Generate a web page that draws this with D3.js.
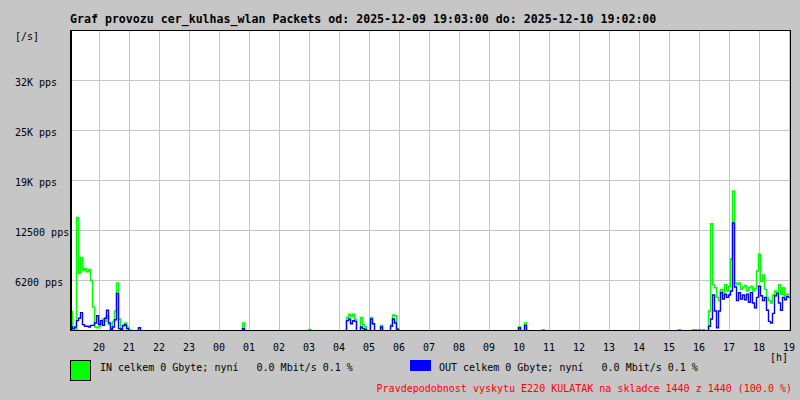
<!DOCTYPE html>
<html>
<head>
<meta charset="utf-8">
<script src="https://cdn.jsdelivr.net/npm/d3@7"></script>
<style>
  body { margin: 0; background: #c6c6c6; }
  text { font-family: "DejaVu Sans Mono", monospace; font-size: 10px; white-space: pre; }
</style>
</head>
<body>
<svg id="chart" width="800" height="400"></svg>
<script>
// 4 minute samples, 19:03 -> 19:03 next day (360 samples)
const startTime = new Date(2025, 11, 9, 19, 3);
const endTime = new Date(2025, 11, 10, 19, 3);
const sampleMinutes = 4;

const inPackets = [
  2400, 0, 200, 14200, 7200, 9200, 7600, 7800, 7400, 7700, 6300, 3000, 500, 400, 600, 900, 1500, 1200, 1900, 800,
  300, 1200, 2500, 6000, 1500, 300, 600, 1000, 500, 200, 0, 0, 0, 0, 0, 0, 0, 0, 0, 0,
  0, 0, 0, 0, 0, 0, 0, 0, 0, 0, 0, 0, 0, 0, 0, 0, 0, 0, 0, 0,
  0, 0, 0, 0, 0, 0, 0, 0, 0, 0, 0, 0, 0, 0, 0, 0, 0, 0, 0, 0,
  0, 0, 0, 0, 0, 0, 1000, 0, 0, 0, 0, 0, 0, 0, 0, 0, 0, 0, 0, 0,
  0, 0, 0, 0, 0, 0, 0, 0, 0, 0, 0, 0, 0, 0, 0, 0, 0, 0, 0, 200,
  0, 0, 0, 0, 0, 0, 0, 0, 0, 0, 0, 0, 0, 0, 0, 0, 0, 0, 1700, 2100,
  1800, 2100, 1400, 0, 0, 1700, 800, 500, 0, 0, 1700, 900, 0, 0, 0, 700, 0, 0, 0, 0,
  800, 2000, 1900, 300, 0, 0, 0, 0, 0, 0, 0, 0, 0, 0, 0, 0, 0, 0, 0, 0,
  0, 0, 0, 0, 0, 0, 0, 0, 0, 0, 0, 0, 0, 0, 0, 0, 0, 0, 0, 0,
  0, 0, 0, 0, 0, 0, 0, 0, 0, 0, 0, 0, 0, 0, 0, 0, 0, 0, 0, 0,
  0, 0, 0, 0, 500, 0, 0, 1000, 0, 0, 0, 0, 0, 0, 0, 0, 0, 0, 0, 0,
  0, 0, 0, 0, 0, 0, 0, 0, 0, 0, 0, 0, 0, 0, 0, 0, 0, 0, 0, 0,
  0, 0, 0, 0, 0, 0, 0, 0, 0, 0, 0, 0, 0, 0, 0, 0, 0, 0, 0, 0,
  0, 0, 0, 0, 0, 0, 0, 0, 0, 0, 0, 0, 0, 0, 0, 0, 0, 0, 0, 0,
  0, 0, 0, 0, 0, 0, 0, 0, 0, 0, 0, 0, 0, 0, 0, 0, 0, 0, 0, 2500,
  13400, 5800, 5400, 4200, 3800, 5200, 4500, 5800, 5000, 5600, 9000, 17500, 6000, 5800, 6000, 5200, 5500, 5700, 5000, 5400,
  5600, 5000, 5300, 7500, 9600, 6200, 7000, 5200, 4200, 3800, 3500, 4500, 5000, 4800, 5800, 4600, 5400, 4400, 4600, 4500
];

const outPackets = [
  500, 300, 500, 1300, 1600, 2300, 800, 600, 600, 500, 700, 700, 1000, 1900, 800, 1300, 700, 1600, 2600, 1000,
  200, 500, 1400, 4700, 300, 200, 700, 800, 300, 0, 0, 0, 0, 0, 400, 0, 0, 0, 0, 0,
  0, 0, 0, 0, 0, 0, 0, 0, 0, 0, 0, 0, 0, 0, 0, 0, 0, 0, 0, 0,
  0, 0, 0, 0, 0, 0, 0, 0, 0, 0, 0, 0, 0, 0, 0, 0, 0, 0, 0, 0,
  0, 0, 0, 0, 0, 0, 300, 0, 0, 0, 0, 0, 0, 0, 0, 0, 0, 0, 0, 0,
  0, 0, 0, 0, 0, 0, 0, 0, 0, 0, 0, 0, 0, 0, 0, 0, 0, 0, 0, 0,
  0, 0, 0, 0, 0, 0, 0, 0, 0, 0, 0, 0, 0, 0, 0, 0, 0, 0, 1300, 1500,
  900, 1300, 1200, 0, 0, 500, 300, 200, 0, 0, 1500, 900, 0, 0, 0, 500, 0, 0, 0, 0,
  600, 1500, 1000, 200, 0, 0, 0, 0, 0, 0, 0, 0, 0, 0, 0, 0, 0, 0, 0, 0,
  0, 0, 0, 0, 0, 0, 0, 0, 0, 0, 0, 0, 0, 0, 0, 0, 0, 0, 0, 0,
  0, 0, 0, 0, 0, 0, 0, 0, 0, 0, 0, 0, 0, 0, 0, 0, 0, 0, 0, 0,
  0, 0, 0, 0, 400, 0, 0, 700, 0, 0, 0, 0, 0, 0, 0, 0, 100, 0, 0, 0,
  0, 0, 0, 0, 0, 0, 0, 0, 0, 0, 0, 0, 0, 0, 0, 0, 0, 0, 0, 0,
  0, 0, 0, 0, 0, 0, 0, 0, 0, 0, 0, 0, 0, 0, 0, 0, 0, 0, 0, 0,
  0, 0, 0, 0, 0, 0, 0, 0, 0, 0, 0, 0, 0, 0, 0, 0, 0, 0, 0, 0,
  0, 0, 0, 0, 100, 0, 0, 0, 0, 0, 0, 100, 100, 0, 100, 0, 100, 0, 0, 600,
  1500, 4500, 2500, 400, 2500, 4800, 4000, 4600, 4200, 4500, 5000, 13500, 5500, 3800, 4800, 4000, 4500, 3900, 4600, 3600,
  4800, 3500, 2900, 4200, 5600, 4400, 3800, 4200, 2600, 1200, 1000, 2200, 4400, 4700, 3500, 2600, 4200, 3900, 4300, 4200
];

const yTicks = [6250, 12500, 18750, 25000, 31250];
const yLabels = ["6200 pps", "12500 pps", "19K pps", "25K pps", "32K pps"];
const yMax = 37500;

const titleText = "Graf provozu cer_kulhas_wlan Packets od: 2025-12-09 19:03:00 do: 2025-12-10 19:02:00";
const inLegend = "IN celkem 0 Gbyte; nyní   0.0 Mbit/s 0.1 %";
const outLegend = "OUT celkem 0 Gbyte; nyní   0.0 Mbit/s 0.1 %";
const noteText = "Pravdepodobnost vyskytu E220 KULATAK na skladce 1440 z 1440 (100.0 %)";

const svg = d3.select("#chart");
const margin = { top: 30, right: 10, bottom: 70, left: 70 };
const width = +svg.attr("width");
const height = +svg.attr("height");

const xScale = d3.scaleTime()
  .domain([startTime, endTime])
  .range([margin.left, width - margin.right]);
const yScale = d3.scaleLinear()
  .domain([0, yMax])
  .range([height - margin.bottom + 1, margin.top + 1]);

svg.append("rect")
  .attr("width", width).attr("height", height)
  .attr("fill", "#c6c6c6");

svg.append("rect")
  .attr("x", margin.left).attr("y", margin.top)
  .attr("width", width - margin.left - margin.right)
  .attr("height", height - margin.top - margin.bottom)
  .attr("fill", "#fff");

svg.append("text")
  .attr("x", 70).attr("y", 23)
  .style("font-size", "11.6px").style("font-weight", "bold")
  .text(titleText);

// grid
const hours = xScale.ticks(d3.timeHour.every(1));
svg.append("g").selectAll("line")
  .data(hours)
  .join("line")
  .attr("x1", (d) => Math.floor(xScale(d)) + 1.5)
  .attr("x2", (d) => Math.floor(xScale(d)) + 1.5)
  .attr("y1", margin.top)
  .attr("y2", height - margin.bottom)
  .attr("stroke", "#c6c6c6");

svg.append("g").selectAll("line")
  .data(yTicks)
  .join("line")
  .attr("x1", margin.left)
  .attr("x2", width - margin.right)
  .attr("y1", (d) => Math.round(yScale(d)) - 0.5)
  .attr("y2", (d) => Math.round(yScale(d)) - 0.5)
  .attr("stroke", "#c6c6c6");

// data lines
svg.append("clipPath").attr("id", "plotClip")
  .append("rect")
  .attr("x", margin.left + 1).attr("y", margin.top)
  .attr("width", width - margin.left - margin.right)
  .attr("height", height - margin.top - margin.bottom + 1);

const sampleTime = (i) => d3.timeMinute.offset(startTime, i * sampleMinutes);
const line = d3.line()
  .x((d, i) => xScale(sampleTime(i)) + 1.5)
  .y((d) => yScale(d))
  .curve(d3.curveStep);

const plot = svg.append("g").attr("clip-path", "url(#plotClip)");
plot.append("path")
  .attr("d", line(inPackets))
  .attr("fill", "none").attr("stroke", "#00ff00").attr("stroke-width", 1.4);
plot.append("path")
  .attr("d", line(outPackets))
  .attr("fill", "none").attr("stroke", "#0000ff").attr("stroke-width", 1.4);

// frame
svg.append("rect")
  .attr("x", margin.left + 0.5).attr("y", margin.top + 0.5)
  .attr("width", width - margin.left - margin.right)
  .attr("height", height - margin.top - margin.bottom)
  .attr("fill", "none").attr("stroke", "#000");
svg.append("line")
  .attr("x1", margin.left + 1.5).attr("x2", margin.left + 1.5)
  .attr("y1", margin.top).attr("y2", height - margin.bottom + 1)
  .attr("stroke", "#000");

// y labels
svg.append("text").attr("x", 15).attr("y", 40).text("[/s]");
svg.append("g").selectAll("text")
  .data(yTicks)
  .join("text")
  .attr("x", 15)
  .attr("y", (d) => Math.round(yScale(d)) + 5)
  .text((d, i) => yLabels[i]);

// x labels
svg.append("g").selectAll("text")
  .data(hours)
  .join("text")
  .attr("x", (d) => xScale(d) + 0.5)
  .attr("y", 351)
  .attr("text-anchor", "middle")
  .text(d3.timeFormat("%H"));
svg.append("text").attr("x", 770).attr("y", 361).text("[h]");

// legend
svg.append("rect")
  .attr("x", 70.5).attr("y", 360.5).attr("width", 20).attr("height", 20)
  .attr("fill", "#00ff00").attr("stroke", "#000");
svg.append("text").attr("x", 100).attr("y", 371).text(inLegend);
svg.append("rect")
  .attr("x", 410).attr("y", 360).attr("width", 21).attr("height", 11)
  .attr("fill", "#0000ff");
svg.append("text").attr("x", 439).attr("y", 371).text(outLegend);
svg.append("text")
  .attr("x", 792).attr("y", 392)
  .attr("text-anchor", "end")
  .attr("fill", "#ff0000")
  .text(noteText);
</script>
</body>
</html>
